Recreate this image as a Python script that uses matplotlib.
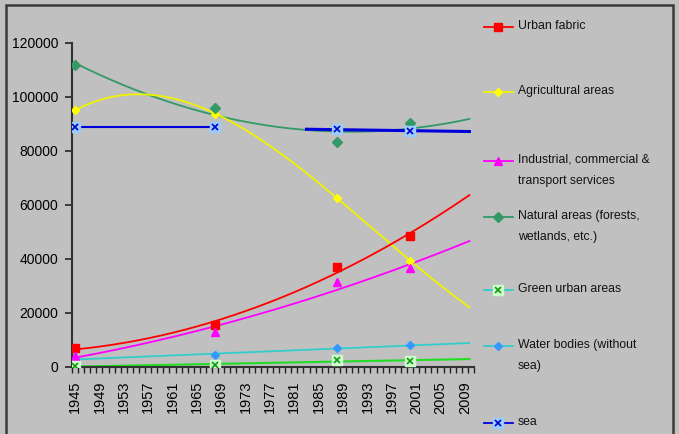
import numpy as np
import matplotlib
matplotlib.use("Agg")
import matplotlib.pyplot as plt
from matplotlib.lines import Line2D
from matplotlib.patches import Rectangle

plt.rcParams['font.family'] = ['Liberation Sans', 'DejaVu Sans']

# data points
years = [1945, 1968, 1988, 2000]
urban = [6900, 15500, 37000, 48500]
agricultural = [95000, 93800, 62500, 39400]
industrial = [4000, 13000, 31500, 36600]
natural = [111700, 96000, 83100, 90200]
green_urban = [300, 600, 2700, 2200]
water = [3000, 4500, 7000, 8000]
sea = [88900, 88900, 87900, 87200]

labels = ["Urban fabric", "Agricultural areas",
          "Industrial, commercial &\ntransport services",
          "Natural areas (forests,\nwetlands, etc.)",
          "Green urban areas", "Water bodies (without\nsea)", "sea"]

W, H = 679, 434
fig = plt.figure(figsize=(W / 100, H / 100), dpi=100)
fig.patch.set_facecolor('#C0C0C0')

# outer frame
fig.patches.append(Rectangle((6 / W, -0.05), 667 / W, 1.05 - 5 / H, transform=fig.transFigure,
                             fill=False, edgecolor='#3A3A3A', linewidth=1.8, zorder=0))

ax = fig.add_axes([72 / W, (H - 367) / H, 402 / W, 324.3 / H])
ax.set_facecolor('#C0C0C0')

t = np.arange(1945, 2010, 0.25)


def trend(vals, deg, x=t):
    c = np.polyfit(years, vals, deg)
    return np.polyval(c, x)


# trendlines
ax.plot(t, trend(natural, 2), color='#339966', lw=1.3, zorder=2)
ax.plot(t, trend(agricultural, 3), color='#F2F200', lw=1.3, zorder=3)
ax.plot(t, trend(urban, 2), color='#FF0000', lw=1.3, zorder=3)
ax.plot(t, trend(industrial, 2), color='#FF00FF', lw=1.3, zorder=3)
ax.plot(t, trend(water, 1), color='#33CCCC', lw=1.3, zorder=2)
ax.plot(t, trend(green_urban, 1), color='#22DD22', lw=1.5, zorder=2)
ax.plot(years[:2], sea[:2], color='#0000DD', lw=1.5, zorder=3)
t2 = np.arange(1983, 2010, 0.25)
ax.plot(t2, trend(sea, 1, t2), color='#0000DD', lw=2.2, zorder=3)

# markers
ax.plot(years, urban, 's', color='#FF0000', ms=6, zorder=5)
ax.plot(years, agricultural, 'D', color='#FFFF00', ms=4.5, zorder=5)
ax.plot(years, industrial, '^', color='#FF00FF', ms=6, zorder=6)
ax.plot(years, natural, 'D', color='#339966', ms=5, zorder=5)
ax.plot(years, water, 'D', color='#3399FF', ms=4.5, zorder=5)
ax.plot(years, green_urban, 's', color='#CCFFCC', ms=7, zorder=6)
ax.plot(years, green_urban, 'x', color='#119911', ms=4, mew=1.2, zorder=7)
ax.plot(years, sea, 's', color='#99CCFF', ms=7, zorder=6)
ax.plot(years, sea, 'x', color='#0000CC', ms=4, mew=1.2, zorder=7)

ax.set_xlim(1944.5, 2010.5)
ax.set_ylim(0, 120000)
ax.set_yticks(range(0, 120001, 20000))
ax.set_xticks(range(1945, 2010, 4))
ax.set_xticks(np.arange(1944.5, 2011, 1), minor=True)
ax.tick_params(axis='y', direction='out', length=5, width=1.2, labelsize=10, pad=5, color='#222222')
ax.tick_params(axis='x', which='major', length=0, labelsize=10.5, pad=10, labelrotation=90)
ax.tick_params(axis='x', which='minor', direction='out', length=4, width=1, color='#222222')
for s in ['top', 'right']:
    ax.spines[s].set_visible(False)
for s in ['left', 'bottom']:
    ax.spines[s].set_color('#333333')
    ax.spines[s].set_linewidth(1.5)

# legend drawn by hand
leg_lines = [('#FF0000', 's', '#FF0000', 6, None),
             ('#F2F200', 'D', '#FFFF00', 4.5, None),
             ('#FF00FF', '^', '#FF00FF', 6, None),
             ('#339966', 'D', '#339966', 5, None),
             ('#33CCCC', 's', '#CCFFCC', 7, '#119911'),
             ('#33CCCC', 'D', '#3399FF', 4.5, None),
             ('#0000DD', 's', '#99CCFF', 7, '#0000CC')]
leg_y = [27, 92, 161, 217, 290, 346, 423]
for (lc, mk, mc, ms, xc), y, lab in zip(leg_lines, leg_y, labels):
    fy = 1 - y / H
    fig.add_artist(Line2D([484 / W, 513 / W], [fy, fy], color=lc, lw=1.3, transform=fig.transFigure))
    fig.add_artist(Line2D([498.5 / W], [fy], marker=mk, color=mc, ms=ms, transform=fig.transFigure))
    if xc:
        fig.add_artist(Line2D([498.5 / W], [fy], marker='x', color=xc, ms=4, mew=1.2,
                              transform=fig.transFigure))
    fig.text(518 / W, 1 - (y - 7) / H, lab, fontsize=8.8, va='top', ha='left',
             linespacing=2.0, color='#111111')

fig.savefig('out.png', dpi=100, facecolor=fig.get_facecolor())
